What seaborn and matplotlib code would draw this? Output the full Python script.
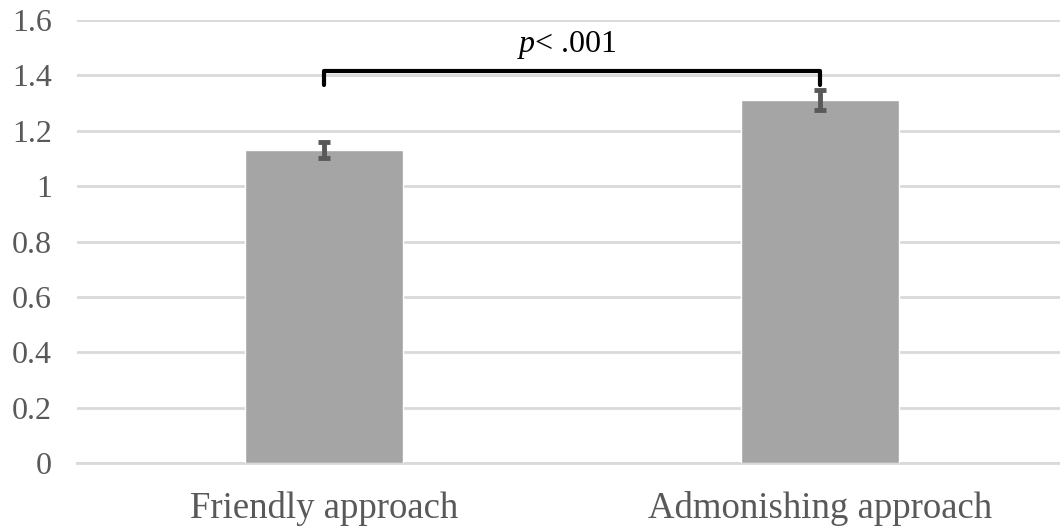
import matplotlib
matplotlib.use("Agg")
import matplotlib.pyplot as plt
import seaborn as sns
import pandas as pd

categories = ["Friendly approach", "Admonishing approach"]
means = [1.13, 1.31]
errors = [0.030, 0.036]
y_ticks = [0, 0.2, 0.4, 0.6, 0.8, 1.0, 1.2, 1.4, 1.6]
y_tick_labels = ["0", "0.2", "0.4", "0.6", "0.8", "1", "1.2", "1.4", "1.6"]
bracket_y = 1.415
bracket_tip = 1.365
p_label_y = 1.51
p_label = "$\\mathit{p}$< .001"

sns.set_theme(style="white")
plt.rcParams["font.family"] = ["Liberation Serif", "DejaVu Serif"]
plt.rcParams["mathtext.fontset"] = "custom"
plt.rcParams["mathtext.it"] = "Liberation Serif:italic"
plt.rcParams["mathtext.rm"] = "Liberation Serif"

df = pd.DataFrame({"cat": categories, "mean": means, "err": errors})

fig = plt.figure(figsize=(10.6, 5.27), dpi=100)
ax = fig.add_axes([0.0726, 0.1214, 0.9274, 0.8406])

sns.barplot(data=df, x="cat", y="mean", color="#a5a5a5", saturation=1,
            width=0.319, errorbar=None, ax=ax, zorder=3)
ax.errorbar(range(len(categories)), means, yerr=errors, fmt="none",
            ecolor="#595959", elinewidth=3.5, capsize=4.5, capthick=3.5, zorder=4)

ax.set_ylim(0, 1.6)
ax.set_xlim(-0.498, 1.484)
ax.set_yticks(y_ticks)
ax.set_yticklabels(y_tick_labels)
ax.yaxis.grid(True, color="#d9d9d9", linewidth=2, zorder=0)
ax.set_axisbelow(True)
for s in ["top", "right", "left"]:
    ax.spines[s].set_visible(False)
ax.spines["bottom"].set_color("#d9d9d9")
ax.spines["bottom"].set_linewidth(2)
ax.spines["bottom"].set_zorder(1)
ax.tick_params(axis="y", length=0, pad=18, labelsize=23, labelcolor="#595959")
ax.tick_params(axis="x", length=0, pad=20, labelsize=26.5, labelcolor="#595959")
ax.set_xlabel("")
ax.set_ylabel("")

ax.plot([0, 0, 1, 1], [bracket_tip, bracket_y, bracket_y, bracket_tip],
        color="black", linewidth=3, solid_joinstyle="round", zorder=5, clip_on=False)
ax.text(0.49, p_label_y, p_label, ha="center", va="center", fontsize=23, color="black")

fig.savefig("out.png", dpi=100, facecolor="white")
